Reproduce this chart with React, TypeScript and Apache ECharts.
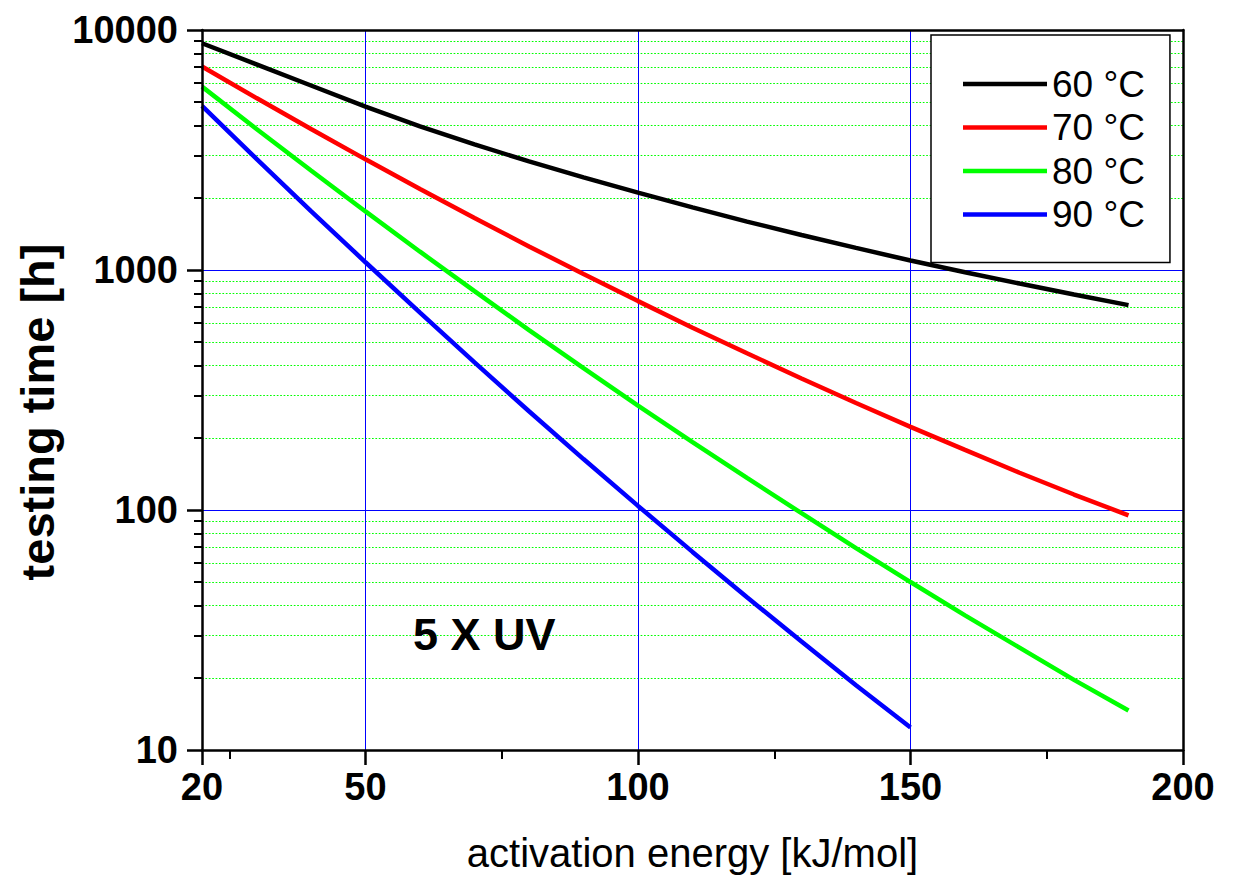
import React, { useEffect, useRef } from "react";
import * as echarts from "echarts";

// activation energy [kJ/mol]
const energy = [20, 30, 40, 50, 60, 70, 80, 90, 100, 110, 120, 130, 140, 150, 160, 170, 180, 190];
// testing time [h]
const t60 = [8805, 7197, 5870, 4790, 3971, 3335, 2834, 2431, 2101, 1824, 1591, 1399, 1236, 1096, 979, 878, 790, 714];
const t70 = [7047, 5204, 3867, 2891, 2175, 1647, 1254, 962, 742, 575, 450, 353, 279, 222, 178, 143, 116, 95];
const t80 = [5808, 3870, 2597, 1754, 1192, 816, 562, 390, 272, 192, 136, 97, 69.4, 50.1, 36.4, 26.7, 19.6, 14.6];
const t90 = [4828, 2904, 1761, 1077, 664, 412, 258, 163, 104, 66.9, 43.3, 28.3, 18.6, 12.4];

const seriesNames = ["60 °C", "70 °C", "80 °C", "90 °C"];
const seriesColors = ["#000000", "#ff0000", "#00ff00", "#0000ff"];
const seriesValues = [t60, t70, t80, t90];

const xTickValues = [20, 50, 100, 150, 200];
const xMinorTickValues = [25, 75, 125, 175];
const xGridValues = [50, 100, 150];

const FONT = "'Liberation Sans', Arial, sans-serif";

export default function App() {
  const ref = useRef<HTMLDivElement>(null);

  useEffect(() => {
    if (!ref.current) return;
    const chart = echarts.init(ref.current, undefined, { renderer: "svg" });
    const xBase = { type: "value", min: 20, max: 200, gridIndex: 0 } as any;
    const yBase = { type: "log", logBase: 10, min: 10, max: 10000, gridIndex: 0 } as any;

    chart.setOption({
      animation: false,
      backgroundColor: "#ffffff",
      grid: { left: 202, right: 54, top: 30, bottom: 127, containLabel: false },
      xAxis: [
        {
          ...xBase,
          position: "bottom",
          z: 0,
          axisLine: { show: false },
          axisTick: { show: false, customValues: xGridValues },
          axisLabel: { show: false, customValues: xGridValues },
          splitLine: { show: true, lineStyle: { color: "#0000ff", width: 1 } },
        },
        {
          ...xBase,
          position: "bottom",
          z: 10,
          axisLine: { show: true, onZero: false, lineStyle: { color: "#000", width: 2.5 } },
          axisTick: { show: true, customValues: xTickValues, length: 15, lineStyle: { color: "#000", width: 2.5 } },
          axisLabel: {
            show: true,
            customValues: xTickValues,
            margin: 18,
            color: "#000",
            fontSize: 38,
            fontWeight: "bold",
            fontFamily: FONT,
            formatter: (v: number) => String(v),
          },
          splitLine: { show: false },
          name: "activation energy [kJ/mol]",
          nameLocation: "middle",
          nameGap: 83,
          nameTextStyle: { color: "#000", fontSize: 40, fontFamily: FONT, lineHeight: 40 },
        },
        {
          ...xBase,
          position: "bottom",
          z: 10,
          axisLine: { show: false },
          axisTick: { show: true, customValues: xMinorTickValues, length: 9, lineStyle: { color: "#000", width: 2 } },
          axisLabel: { show: false },
          splitLine: { show: false },
        },
        {
          ...xBase,
          position: "top",
          z: 10,
          axisLine: { show: true, onZero: false, lineStyle: { color: "#000", width: 2.5 } },
          axisTick: { show: false },
          axisLabel: { show: false },
          splitLine: { show: false },
        },
      ],
      yAxis: [
        {
          ...yBase,
          position: "left",
          z: 0,
          axisLine: { show: false },
          axisTick: { show: false },
          axisLabel: { show: false },
          splitLine: { show: true, lineStyle: { color: "#0000ff", width: 1 } },
          minorTick: { show: false, splitNumber: 9 },
          minorSplitLine: { show: true, lineStyle: { color: "#00ff00", width: 1.1, type: [1.7, 1.7] } },
        },
        {
          ...yBase,
          position: "left",
          z: 10,
          axisLine: { show: true, onZero: false, lineStyle: { color: "#000", width: 2.5 } },
          axisTick: { show: true, length: 15, lineStyle: { color: "#000", width: 2.5 } },
          minorTick: { show: true, splitNumber: 9, length: 8, lineStyle: { color: "#000", width: 2 } },
          axisLabel: {
            show: true,
            margin: 24,
            color: "#000",
            fontSize: 38,
            fontWeight: "bold",
            fontFamily: FONT,
            formatter: (v: number) => String(v),
          },
          splitLine: { show: false },
        },
        {
          ...yBase,
          position: "right",
          z: 10,
          axisLine: { show: true, onZero: false, lineStyle: { color: "#000", width: 2.5 } },
          axisTick: { show: false },
          axisLabel: { show: false },
          splitLine: { show: false },
        },
      ],
      legend: {
        show: true,
        orient: "vertical",
        left: 931,
        top: 35,
        data: seriesNames,
        icon: "rect",
        itemWidth: 84,
        itemHeight: 4.5,
        itemGap: 5.5,
        padding: [30, 25, 29, 32],
        backgroundColor: "#ffffff",
        borderColor: "#000",
        borderWidth: 1.5,
        borderRadius: 0,
        selectedMode: false,
        textStyle: { color: "#000", fontSize: 37, fontFamily: FONT, lineHeight: 38 },
      },
      series: seriesNames.map((name, k) => ({
        name,
        type: "line",
        xAxisIndex: 0,
        yAxisIndex: 0,
        z: 2,
        symbol: "none",
        showSymbol: false,
        smooth: false,
        color: seriesColors[k],
        lineStyle: { color: seriesColors[k], width: 4.5 },
        data: seriesValues[k].map((v, i) => [energy[i], v]),
      })),
      graphic: [
        {
          type: "text",
          x: 413,
          y: 634,
          z: 5,
          style: {
            text: "5 X UV",
            fill: "#000",
            font: `bold 45px ${FONT}`,
            textAlign: "left",
            textVerticalAlign: "middle",
          },
        },
        {
          type: "text",
          x: 37,
          y: 412,
          rotation: Math.PI / 2,
          z: 5,
          style: {
            text: "testing time [h]",
            fill: "#000",
            font: `bold 47px ${FONT}`,
            textAlign: "center",
            textVerticalAlign: "middle",
          },
        },
      ],
    });
    return () => chart.dispose();
  }, []);

  return (
    <div
      ref={ref}
      style={{ position: "absolute", left: 0, top: 0, width: 1237, height: 878, background: "#fff" }}
    />
  );
}
